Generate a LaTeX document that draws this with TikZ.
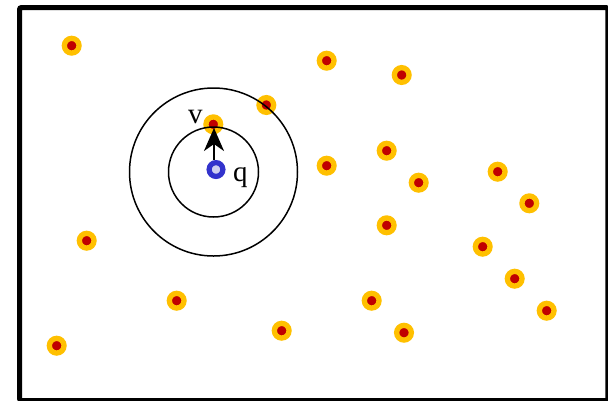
\documentclass[tikz,border=0pt]{standalone}
\usepackage{fontspec}
\setmainfont{Liberation Serif}
\usetikzlibrary{arrows.meta}
\definecolor{dotorange}{RGB}{255,192,0}
\definecolor{dotred}{RGB}{192,0,0}
\definecolor{qblue}{RGB}{51,51,204}
\definecolor{qlight}{RGB}{208,208,240}
\begin{document}
\begin{tikzpicture}[x=1pt,y=-1pt,
  datapt/.style={circle,inner sep=0pt,minimum size=14.7pt,fill=dotred,draw=dotorange,line width=5.3pt},
  querypt/.style={circle,inner sep=0pt,minimum size=13.8pt,fill=qlight,draw=qblue,line width=5.2pt},
  ring/.style={draw=black,line width=1.5pt},
  lbl/.style={anchor=base west,inner sep=0pt,font=\fontsize{29}{29}\selectfont}]
\useasboundingbox (0,0) rectangle (608,400);
\draw[line width=5pt,rounded corners=2pt] (19.5,7.5) rectangle (607.8,400.5);
% data points
\node[datapt] (p1) at (71.7,45.7) {};
\node[datapt] (p2) at (326.7,60.7) {};
\node[datapt] (p3) at (401.7,75) {};
\node[datapt] (p4) at (266.3,105) {};
\node[datapt] (v) at (213.3,124.3) {};
\node[datapt] (p6) at (386.7,150.7) {};
\node[datapt] (p7) at (326.7,165.7) {};
\node[datapt] (p8) at (418.7,182.7) {};
\node[datapt] (p9) at (497.7,171.7) {};
\node[datapt] (p10) at (529.3,203.3) {};
\node[datapt] (p11) at (86.7,240.7) {};
\node[datapt] (p12) at (386.7,225.3) {};
\node[datapt] (p13) at (482.7,246.7) {};
\node[datapt] (p14) at (514.7,278.7) {};
\node[datapt] (p15) at (546.7,310.7) {};
\node[datapt] (p16) at (176.7,300.7) {};
\node[datapt] (p17) at (371.7,300.7) {};
\node[datapt] (p18) at (281.7,330.7) {};
\node[datapt] (p19) at (404,332.7) {};
\node[datapt] (p20) at (56.7,345.7) {};
% range circles
\coordinate (c) at (213.5,172);
\draw[ring] (c) circle[radius=45];
\draw[ring] (c) circle[radius=84];
% query point
\node[querypt] (q) at (216,169.5) {};
\coordinate (tail) at (214,160);
\coordinate (tip) at (214,128);
\draw[line width=2.5pt,-{Stealth[length=23pt,width=20pt,inset=7pt]}] (tail) -- (tip);
\node[lbl] (vl) at (188,123) {v};
\node[lbl] (ql) at (233,181) {q};
\end{tikzpicture}
\end{document}
